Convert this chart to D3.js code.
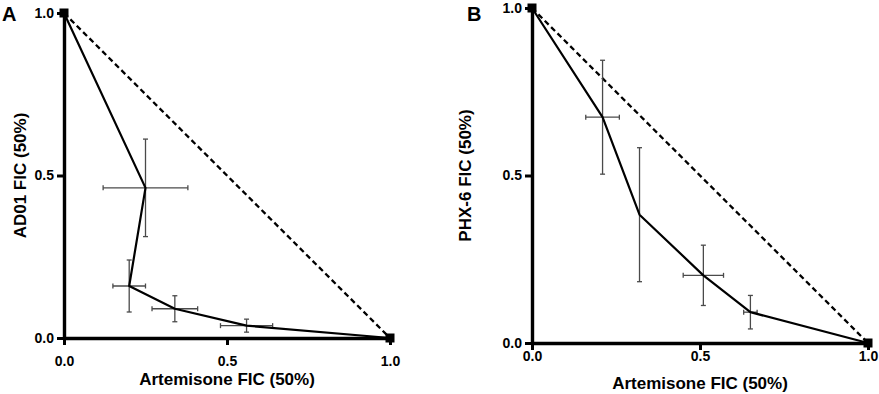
<!DOCTYPE html>
<html>
<head>
<meta charset="utf-8">
<script src="https://cdn.jsdelivr.net/npm/d3@7"></script>
<style>
  body { margin: 0; background: #fff; }
  text { font-family: "Liberation Sans", Arial, sans-serif; font-weight: bold; fill: #000; }
</style>
</head>
<body>
<div id="chart"></div>
<script>
// Panel A: Artemisone + AD01
const fixA = [0, 0.25, 0.20, 0.34, 0.56, 1];
const ficA = [1, 0.462, 0.16, 0.09, 0.038, 0];
const fixAErr = [0, 0.13, 0.05, 0.07, 0.08, 0];
const ficAErr = [0, 0.15, 0.08, 0.04, 0.02, 0];

// Panel B: Artemisone + PHX-6
const fixB = [0, 0.21, 0.32, 0.51, 0.65, 1];
const ficB = [1, 0.674, 0.383, 0.202, 0.092, 0];
const fixBErr = [0, 0.05, 0, 0.06, 0.02, 0];
const ficBErr = [0, 0.17, 0.2, 0.09, 0.05, 0];

const tickValues = [0, 0.5, 1];
const xTitle = 'Artemisone FIC (50%)';

const svg = d3.select('#chart')
  .append('svg')
  .attr('width', 879)
  .attr('height', 394);

function panel(opts) {
  const { left, right, top, bottom, xs, ys, xErr, yErr, yTitle, letter, letterX,
    titleX, xTitleY, xPad } = opts;
  const x = d3.scaleLinear().domain([0, 1]).range([left, right]);
  const y = d3.scaleLinear().domain([0, 1]).range([bottom, top]);
  const g = svg.append('g');

  // additivity line
  g.append('line')
    .attr('x1', x(0)).attr('y1', y(1))
    .attr('x2', x(1)).attr('y2', y(0))
    .attr('stroke', '#000')
    .attr('stroke-width', 2.3)
    .attr('stroke-dasharray', '5.5,3.5');

  // error bars
  const pts = xs.map((v, i) => ({ x: v, y: ys[i], ex: xErr[i], ey: yErr[i] }));
  const eb = g.append('g').attr('stroke', '#4a4a4a').attr('stroke-width', 1.3);
  pts.filter((d) => d.ey > 0).forEach((d) => {
    eb.append('line').attr('x1', x(d.x)).attr('x2', x(d.x)).attr('y1', y(d.y - d.ey)).attr('y2', y(d.y + d.ey));
    [d.y - d.ey, d.y + d.ey].forEach((v) => {
      eb.append('line').attr('x1', x(d.x) - 2.5).attr('x2', x(d.x) + 2.5).attr('y1', y(v)).attr('y2', y(v));
    });
  });
  pts.filter((d) => d.ex > 0).forEach((d) => {
    eb.append('line').attr('y1', y(d.y)).attr('y2', y(d.y)).attr('x1', x(d.x - d.ex)).attr('x2', x(d.x + d.ex));
    [d.x - d.ex, d.x + d.ex].forEach((v) => {
      eb.append('line').attr('y1', y(d.y) - 2.5).attr('y2', y(d.y) + 2.5).attr('x1', x(v)).attr('x2', x(v));
    });
  });

  // isobole
  g.append('path')
    .datum(pts)
    .attr('fill', 'none')
    .attr('stroke', '#000')
    .attr('stroke-width', 2.2)
    .attr('stroke-linejoin', 'round')
    .attr('d', d3.line().x((d) => x(d.x)).y((d) => y(d.y)));

  // axes
  const yAxis = g.append('g')
    .attr('transform', `translate(${x(0)},0)`)
    .call(d3.axisLeft(y).tickValues(tickValues).tickFormat(d3.format('.1f')).tickSize(7).tickPadding(3).tickSizeOuter(0));
  const xAxis = g.append('g')
    .attr('transform', `translate(0,${y(0)})`)
    .call(d3.axisBottom(x).tickValues(tickValues).tickFormat(d3.format('.1f')).tickSize(7).tickPadding(xPad).tickSizeOuter(0));
  [yAxis, xAxis].forEach((ax) => {
    ax.attr('font-size', 14).attr('font-family', '"Liberation Sans", Arial, sans-serif');
    ax.select('.domain').attr('stroke-width', 3.4);
    ax.selectAll('.tick line').attr('stroke-width', 3);
    ax.selectAll('.tick text').style('font-weight', 'bold');
  });

  // end squares
  g.selectAll('rect.end')
    .data(pts.filter((d, i) => i === 0 || i === pts.length - 1))
    .join('rect')
    .attr('x', (d) => x(d.x) - 4.5)
    .attr('y', (d) => y(d.y) - 4.5)
    .attr('width', 9)
    .attr('height', 9)
    .attr('fill', '#000');

  // titles
  g.append('text')
    .attr('x', (left + right) / 2)
    .attr('y', xTitleY)
    .attr('text-anchor', 'middle')
    .style('font-size', '17px')
    .text(xTitle);
  g.append('text')
    .attr('transform', `translate(${titleX},${(top + bottom) / 2}) rotate(-90)`)
    .attr('text-anchor', 'middle')
    .style('font-size', '17px')
    .text(yTitle);
  g.append('text')
    .attr('x', letterX)
    .attr('y', 20.5)
    .style('font-size', '20px')
    .text(letter);
}

panel({
  left: 64, right: 390, top: 13, bottom: 338,
  xs: fixA, ys: ficA, xErr: fixAErr, yErr: ficAErr,
  yTitle: 'AD01 FIC (50%)', letter: 'A', letterX: 2, titleX: 26, xTitleY: 384.5, xPad: 11
});
panel({
  left: 532, right: 868, top: 8, bottom: 343,
  xs: fixB, ys: ficB, xErr: fixBErr, yErr: ficBErr,
  yTitle: 'PHX-6 FIC (50%)', letter: 'B', letterX: 467, titleX: 471, xTitleY: 389, xPad: 1
});
</script>
</body>
</html>
